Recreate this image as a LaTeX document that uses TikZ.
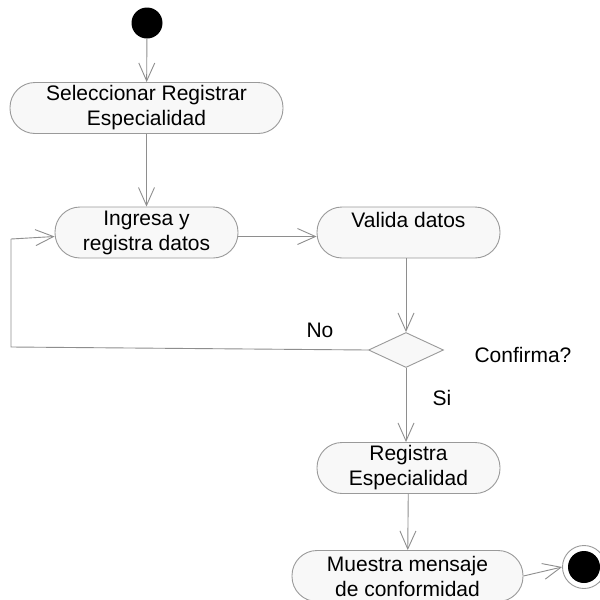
\documentclass[tikz,border=0pt]{standalone}
\usepackage{fontspec}
\setmainfont{Liberation Sans}
\usetikzlibrary{arrows.meta,shapes.geometric}
\definecolor{edgegray}{HTML}{9A9A9A}
\definecolor{linegray}{HTML}{8E8E8E}
\definecolor{actfill}{HTML}{F8F8F8}
\begin{document}
\begin{tikzpicture}[x=1pt,y=-1pt,
  action/.style={draw=edgegray,fill=actfill,line width=0.9pt,rectangle,
    rounded corners=25pt,inner sep=0pt,minimum height=51pt,align=center,
    font=\fontsize{21}{25}\selectfont},
  decision/.style={draw=edgegray,fill=actfill,line width=0.9pt,diamond,
    inner sep=0pt,minimum width=75pt,minimum height=35pt},
  flow/.style={draw=linegray,line width=0.9pt,
    -{Straight Barb[length=18pt,width=16pt,line width=0.9pt]}},
  plain/.style={draw=linegray,line width=0.9pt},
  lbl/.style={font=\fontsize{21}{25}\selectfont,inner sep=0pt}]
\useasboundingbox (0,0) rectangle (600,600);
\clip (0,0) rectangle (600,600);
\fill[white] (0,0) rectangle (600,600);

% initial and final states
\node[circle,fill=black,minimum size=31pt,inner sep=0pt] (start) at (147,23) {};
\node[circle,draw=edgegray,fill=white,line width=0.9pt,minimum size=43pt,inner sep=0pt] (final) at (584,567) {};
\node[circle,fill=black,minimum size=32pt,inner sep=0pt] at (final.center) {};

% actions
\node[action,minimum width=273pt] (sel) at (146.5,108) {Seleccionar Registrar\\Especialidad};
\node[action,minimum width=183pt] (ing) at (146.5,232.5) {Ingresa y\\registra datos};
\node[action,minimum width=183pt] (val) at (408.5,232.5) {Valida datos\\\mbox{}};
\node[decision] (dec) at (406,350) {};
\node[action,minimum width=183pt] (reg) at (408.5,468) {Registra\\Especialidad};
\node[action,minimum width=231pt] (mue) at (407.5,576) {Muestra mensaje\\de conformidad};

% labels
\node[lbl] (no) at (320,330) {No};
\node[lbl] (conf) at (523,355) {Confirma?};
\node[lbl] (si) at (442,398) {Si};

% loop-back corners
\coordinate (lb) at (11,347);
\coordinate (lt) at (11,239);

% transitions
\draw[flow] (start) -- (sel);
\draw[flow] (sel) -- (ing);
\draw[flow] ([yshift=-4pt]ing.east) -- ([yshift=-4pt]val.west);
\draw[flow] (val.south -| dec.north) -- (dec.north);
\draw[flow] (dec.south) -- (reg.north -| dec.south);
\draw[flow] (reg) -- (mue);
\draw[flow] (mue.east) -- (final.west);
\draw[plain] (dec.west) -- (lb) -- (lt);
\draw[flow] (lt) -- ([yshift=-4pt]ing.west);
\end{tikzpicture}
\end{document}
